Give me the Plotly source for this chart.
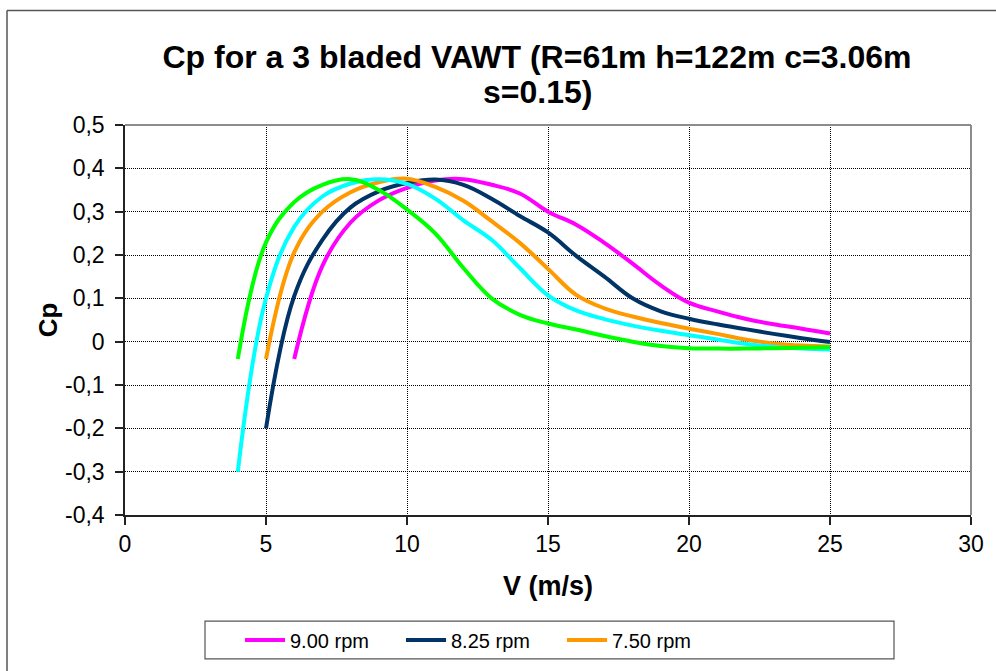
import plotly.graph_objects as go

# ---------------- data ----------------
v_900 = [6, 7, 8, 9, 10, 11, 12, 13, 14, 15, 16, 17, 18, 19, 20, 21, 22, 23, 24, 25]
cp_900 = [-0.04, 0.175, 0.275, 0.326, 0.355, 0.372, 0.375, 0.362, 0.342, 0.30, 0.27, 0.228,
          0.18, 0.13, 0.09, 0.07, 0.053, 0.04, 0.03, 0.019]

v_825 = [5, 6, 7, 8, 9, 10, 11, 12, 13, 14, 15, 16, 17, 18, 19, 20, 21, 22, 23, 24, 25]
cp_825 = [-0.20, 0.105, 0.235, 0.31, 0.347, 0.366, 0.374, 0.362, 0.33, 0.29, 0.252, 0.198,
          0.15, 0.10, 0.07, 0.053, 0.04, 0.029, 0.018, 0.008, -0.001]

v_750 = [5, 6, 7, 8, 9, 10, 11, 12, 13, 14, 15, 16, 17, 18, 19, 20, 21, 22, 23, 24, 25]
cp_750 = [-0.04, 0.206, 0.30, 0.345, 0.368, 0.376, 0.357, 0.325, 0.278, 0.228, 0.168, 0.108,
          0.077, 0.058, 0.043, 0.03, 0.018, 0.005, -0.004, -0.009, -0.011]

v_675 = [4, 5, 6, 7, 8, 9, 10, 11, 12, 13, 14, 15, 16, 17, 18, 19, 20, 21, 22, 23, 24, 25]
cp_675 = [-0.30, 0.10, 0.265, 0.335, 0.365, 0.375, 0.364, 0.33, 0.28, 0.235, 0.17, 0.107,
          0.072, 0.052, 0.037, 0.025, 0.015, 0.005, -0.005, -0.012, -0.016, -0.018]

v_600 = [4, 5, 6, 7, 8, 9, 10, 11, 12, 13, 14, 15, 16, 17, 18, 19, 20, 21, 22, 23, 24, 25]
cp_600 = [-0.04, 0.229, 0.322, 0.362, 0.375, 0.35, 0.305, 0.25, 0.17, 0.10, 0.062, 0.042,
          0.028, 0.013, 0.0, -0.01, -0.015, -0.016, -0.016, -0.015, -0.014, -0.013]

series_names = ["9.00 rpm", "8.25 rpm", "7.50 rpm", "6.75 rpm", "6.00 rpm"]
series_colors = ["#FF00FF", "#003366", "#FF9900", "#00FFFF", "#00FF00"]
series_show_legend = [True, True, True, False, False]

x_tick_vals = [0, 5, 10, 15, 20, 25, 30]
x_tick_text = ["0", "5", "10", "15", "20", "25", "30"]
y_tick_vals = [-0.4, -0.3, -0.2, -0.1, 0, 0.1, 0.2, 0.3, 0.4, 0.5]
y_tick_text = ["-0,4", "-0,3", "-0,2", "-0,1", "0", "0,1", "0,2", "0,3", "0,4", "0,5"]

title_line1 = "Cp for a 3 bladed VAWT (R=61m h=122m c=3.06m"
title_line2 = "s=0.15)"
x_title = "V (m/s)"
y_title = "Cp"

# ---------------- figure ----------------
FONT = "Liberation Sans, Arial, sans-serif"
W, H = 996, 671
ML, MR, MT, MB = 125, 25, 125, 153
PW, PH = W - ML - MR, H - MT - MB


def px2x(px):
    return (px - ML) / PW


def py2y(py):
    return (H - MB - py) / PH


fig = go.Figure()
xs = [v_900, v_825, v_750, v_675, v_600]
ys = [cp_900, cp_825, cp_750, cp_675, cp_600]
for x, y, n, c, s in zip(xs, ys, series_names, series_colors, series_show_legend):
    fig.add_trace(go.Scatter(
        x=x, y=y, name=n, mode="lines", showlegend=s,
        line=dict(color=c, width=4, shape="spline", smoothing=1.1),
    ))

axis_common = dict(
    showgrid=True, gridcolor="#000000", gridwidth=1, griddash="1px,1px",
    showline=True, linecolor="#222222", linewidth=1.5,
    ticks="outside", ticklen=8, tickcolor="#222222", tickwidth=1.5,
    zeroline=False, tickfont=dict(family=FONT, size=23, color="#000"),
    fixedrange=True,
)

fig.update_xaxes(range=[0, 30], tickvals=x_tick_vals, ticktext=x_tick_text,
                 title=dict(text="<b>" + x_title + "</b>", font=dict(family=FONT, size=27, color="#000"),
                            standoff=20),
                 **axis_common)
fig.update_yaxes(range=[-0.4, 0.5], tickvals=y_tick_vals, ticktext=y_tick_text,
                 title=dict(text="<b>" + y_title + "</b>", font=dict(family=FONT, size=26, color="#000"),
                            standoff=0),
                 ticklabelstandoff=6,
                 **axis_common)

shapes = [
    # outer chart border (left & top visible)
    dict(type="line", xref="paper", yref="paper", x0=px2x(7), x1=px2x(7), y0=py2y(9.5), y1=py2y(H + 20),
         line=dict(color="#555555", width=1.5)),
    dict(type="line", xref="paper", yref="paper", x0=px2x(7), x1=px2x(W + 20), y0=py2y(9.5), y1=py2y(9.5),
         line=dict(color="#555555", width=1.5)),
    # plot area top and right border (gray)
    dict(type="line", xref="paper", yref="paper", x0=0, x1=1, y0=1, y1=1,
         line=dict(color="#8c8c8c", width=2)),
    dict(type="line", xref="paper", yref="paper", x0=1, x1=1, y0=0, y1=1,
         line=dict(color="#8c8c8c", width=2)),
    # legend box
    dict(type="rect", xref="paper", yref="paper", x0=px2x(205), x1=px2x(894), y0=py2y(663), y1=py2y(625),
         line=dict(color="#555555", width=1.2), fillcolor="rgba(0,0,0,0)"),
]

annotations = [
    dict(text="<b>" + title_line2 + "</b>", xref="paper", yref="paper",
         x=(537 - ML) / PW, y=py2y(92), xanchor="center", yanchor="middle", showarrow=False,
         font=dict(family=FONT, size=32, color="#000")),
]

fig.update_layout(
    width=W, height=H,
    margin=dict(l=ML, r=MR, t=MT, b=MB),
    paper_bgcolor="#ffffff", plot_bgcolor="#ffffff",
    font=dict(family=FONT, color="#000"),
    title=dict(text="<b>" + title_line1 + "</b>", x=537 / W, xanchor="center",
               y=1 - 57 / H, yanchor="middle",
               font=dict(family=FONT, size=32, color="#000")),
    showlegend=True,
    legend=dict(orientation="h", x=px2x(240), xanchor="left", y=py2y(644), yanchor="middle",
                font=dict(family=FONT, size=20, color="#000"), borderwidth=0,
                bgcolor="rgba(0,0,0,0)", entrywidth=106, entrywidthmode="pixels",
                itemwidth=40, tracegroupgap=0),
    shapes=shapes,
    annotations=annotations,
    hovermode=False,
)

fig.write_html("out.html")
